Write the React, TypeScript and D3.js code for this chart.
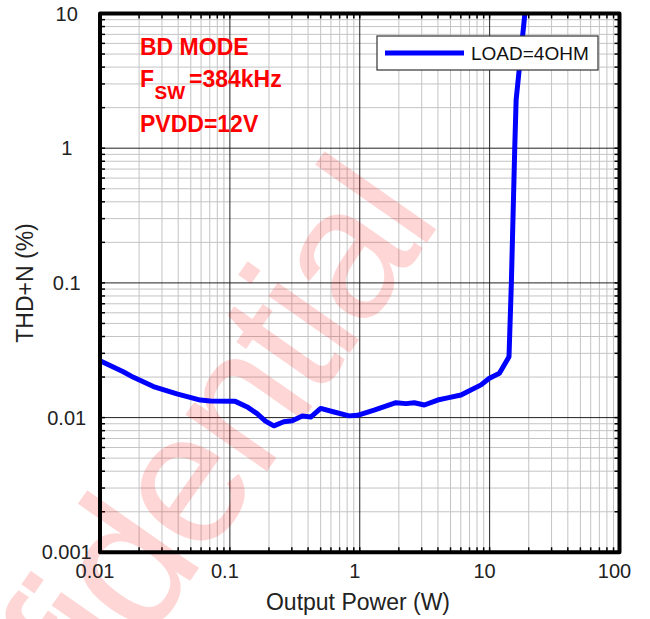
import React from 'react';
import * as d3 from 'd3';

const powerW = [0.01, 0.0151, 0.0181, 0.0258, 0.0391, 0.0592, 0.0707, 0.11, 0.136, 0.162, 0.188, 0.218, 0.26, 0.302, 0.361, 0.419, 0.5, 0.634, 0.828, 0.96, 1.29, 1.9, 2.27, 2.63, 3.14, 3.98, 4.75, 6.02, 8.59, 9.96, 11.9, 14.1, 14.7, 15.6, 16.0, 17.0, 18.6, 19.4];
const thdPct = [0.0264, 0.0219, 0.0199, 0.017, 0.015, 0.0135, 0.0133, 0.0132, 0.012, 0.0107, 0.00941, 0.00869, 0.00931, 0.00947, 0.01026, 0.0101, 0.0117, 0.011, 0.0103, 0.0104, 0.01137, 0.0129, 0.0127, 0.0129, 0.0124, 0.0135, 0.014, 0.0147, 0.0175, 0.0196, 0.0213, 0.0283, 0.0995, 0.975, 2.29, 4.06, 9.6, 14];

const xTickValues = [0.01, 0.1, 1, 10, 100];
const xTickLabels = ['0.01', '0.1', '1', '10', '100'];
const yTickValues = [0.001, 0.01, 0.1, 1, 10];
const yTickLabels = ['0.001', '0.01', '0.1', '1', '10'];

const seriesName = 'LOAD=4OHM';
const xTitle = 'Output Power (W)';
const yTitle = 'THD+N (%)';
const noteMode = 'BD MODE';
const noteF = 'F';
const noteSub = 'SW';
const noteFreq = '=384kHz';
const noteSupply = 'PVDD=12V';
const watermark = 'Confidential';

const FONT = '"Liberation Sans", Arial, Helvetica, sans-serif';

export default function App() {
  const W = 650;
  const H = 619;
  const L = 100, R = 619.5, T = 13.5, B = 552.3;
  const x = d3.scaleLog().domain([0.01, 100]).range([L, R]);
  const y = d3.scaleLog().domain([0.001, 10]).range([B, T]);
  const gx = x.ticks();
  const gy = y.ticks();
  const isMajor = (v: number) => Math.abs(Math.log10(v) - Math.round(Math.log10(v))) < 1e-6;

  const pts: [number, number][] = powerW.map((p, i) => [p, thdPct[i]]);
  const line = d3.line<[number, number]>().x(d => x(d[0])).y(d => y(d[1]));

  return (
    <svg width={W} height={H} viewBox={`0 0 ${W} ${H}`} style={{ position: 'absolute', left: 0, top: 0, display: 'block', background: '#fff' }} fontFamily={FONT}>
      <defs>
        <clipPath id="plotClip">
          <rect x={L} y={T} width={R - L} height={B - T} />
        </clipPath>
      </defs>
      <rect x={0} y={0} width={W} height={H} fill="#fff" />
      {/* minor grid */}
      <g>
        {gx.filter(v => !isMajor(v)).map((v, i) => (
          <line key={'mx' + i} x1={x(v)} x2={x(v)} y1={T} y2={B} stroke="#c4c4c4" strokeWidth={1} />
        ))}
        {gy.filter(v => !isMajor(v)).map((v, i) => (
          <line key={'my' + i} x1={L} x2={R} y1={y(v)} y2={y(v)} stroke="#c4c4c4" strokeWidth={1} />
        ))}
      </g>
      {/* major grid */}
      <g>
        {gx.filter(v => isMajor(v)).map((v, i) => (
          <line key={'Mx' + i} x1={x(v)} x2={x(v)} y1={T} y2={B} stroke="#222" strokeWidth={1} />
        ))}
        {gy.filter(v => isMajor(v)).map((v, i) => (
          <line key={'My' + i} x1={L} x2={R} y1={y(v)} y2={y(v)} stroke="#222" strokeWidth={1} />
        ))}
      </g>
      {/* inward ticks */}
      <g stroke="#000" strokeWidth={1.5}>
        {gx.map((v, i) => (
          <g key={'tx' + i}>
            <line x1={x(v)} x2={x(v)} y1={B} y2={B - 5} />
            <line x1={x(v)} x2={x(v)} y1={T} y2={T + 5} />
          </g>
        ))}
        {gy.map((v, i) => (
          <g key={'ty' + i}>
            <line x1={L} x2={L + 5} y1={y(v)} y2={y(v)} />
            <line x1={R} x2={R - 5} y1={y(v)} y2={y(v)} />
          </g>
        ))}
      </g>
      {/* watermark */}
      <text x={440} y={224} transform="rotate(-55 440 224)" textAnchor="end" fontSize={188} letterSpacing={-6} fill="#ff0000" fillOpacity={0.16}>{watermark}</text>
      {/* curve */}
      <path d={line(pts) || ''} fill="none" stroke="#0000ff" strokeWidth={5} strokeLinejoin="round" strokeLinecap="round" clipPath="url(#plotClip)" />
      {/* frame */}
      <rect x={L} y={T} width={R - L} height={B - T} fill="none" stroke="#000" strokeWidth={4} strokeLinejoin="round" />
      {/* legend */}
      <g>
        <rect x={377} y={36} width={221} height={34} fill="#fff" stroke="#333" strokeWidth={1.2} />
        <line x1={385} x2={464} y1={53} y2={53} stroke="#0000ff" strokeWidth={5} />
        <text x={471} y={60} fontSize={19} fill="#111">{seriesName}</text>
      </g>
      {/* annotations */}
      <g fill="#ff0000" fontWeight="bold">
        <text x={140} y={55} fontSize={23}>{noteMode}</text>
        <text x={140} y={87} fontSize={23}>{noteF}</text>
        <text x={154.5} y={99} fontSize={19}>{noteSub}</text>
        <text x={189} y={87} fontSize={23}>{noteFreq}</text>
        <text x={140} y={131.5} fontSize={23}>{noteSupply}</text>
      </g>
      {/* tick labels */}
      <g fontSize={20} fill="#222" textAnchor="middle">
        {xTickValues.map((v, i) => (
          <text key={'xl' + i} x={x(v) - 5} y={578}>{xTickLabels[i]}</text>
        ))}
        {yTickValues.map((v, i) => (
          <text key={'yl' + i} x={66.7} y={y(v) + 7}>{yTickLabels[i]}</text>
        ))}
      </g>
      {/* axis titles */}
      <text x={358} y={610} fontSize={23} textAnchor="middle" fill="#222">{xTitle}</text>
      <text x={33} y={283} fontSize={23} textAnchor="middle" fill="#222" transform="rotate(-90 33 283)">{yTitle}</text>
    </svg>
  );
}
